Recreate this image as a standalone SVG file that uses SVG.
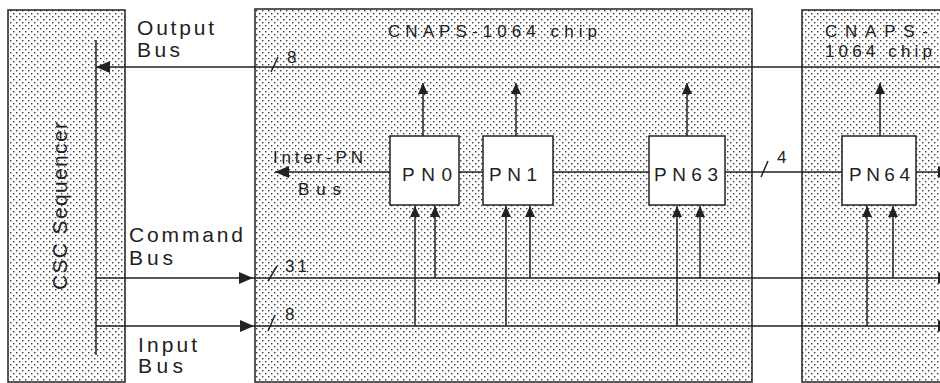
<svg xmlns="http://www.w3.org/2000/svg" width="940" height="383" viewBox="0 0 940 383">
<style>
.blk{fill:url(#dots);stroke:#222;stroke-width:1.5}
.pn{fill:#fff;stroke:#222;stroke-width:1.5}
.ln{fill:none;stroke:#222;stroke-width:1.5}
.t{font-family:"Liberation Sans",Arial,sans-serif;font-size:21px;fill:#222}
.p{font-family:"Liberation Sans",Arial,sans-serif;font-size:19px;fill:#222}
.s{font-family:"Liberation Sans",Arial,sans-serif;font-size:17px;fill:#222}
</style>
<defs>
<pattern id="dots" width="6" height="6" patternUnits="userSpaceOnUse">
<rect width="6" height="6" fill="#fff"/>
<rect x="1" y="1" width="1.4" height="1.4" fill="#3a3a3a"/>
<rect x="4" y="4" width="1.4" height="1.4" fill="#3a3a3a"/>
</pattern>
<marker id="ah" viewBox="0 0 14 12" refX="14" refY="6" markerWidth="14" markerHeight="12" markerUnits="userSpaceOnUse" orient="auto">
<path d="M0 0 L14 6 L0 12 Z" fill="#222"/>
</marker>
<marker id="ahs" viewBox="0 0 11 10" refX="11" refY="5" markerWidth="11" markerHeight="10" markerUnits="userSpaceOnUse" orient="auto">
<path d="M0 0 L11 5 L0 10 Z" fill="#222"/>
</marker>
</defs>
<rect width="940" height="383" fill="#fff"/>
<g id="sequencer">
<rect class="blk" x="8" y="10" width="117" height="372"/>
<text class="t" transform="translate(67,290) rotate(-90)" textLength="168" lengthAdjust="spacing">CSC  Sequencer</text>
</g>
<g id="chip1">
<rect class="blk" x="255" y="9" width="497" height="373"/>
<text class="s" x="388" y="37" textLength="209" lengthAdjust="spacing">CNAPS-1064  chip</text>
</g>
<g id="chip2">
<rect class="blk" x="802" y="10" width="150" height="372"/>
<text class="s" x="825" y="37" textLength="103" lengthAdjust="spacing">CNAPS-</text>
<text class="s" x="825" y="57" textLength="107" lengthAdjust="spacing">1064  chip</text>
</g>
<g id="labels">
<text class="t" x="137" y="35" textLength="77" lengthAdjust="spacing">Output</text>
<text class="t" x="137" y="57" textLength="43" lengthAdjust="spacing">Bus</text>
<text class="t" x="129" y="242" textLength="114" lengthAdjust="spacing">Command</text>
<text class="t" x="129" y="265" textLength="44" lengthAdjust="spacing">Bus</text>
<text class="t" x="138" y="352" textLength="59" lengthAdjust="spacing">Input</text>
<text class="t" x="138" y="373" textLength="45" lengthAdjust="spacing">Bus</text>
<text class="s" x="273" y="163" textLength="90" lengthAdjust="spacing">Inter-PN</text>
<text class="s" x="298" y="195" textLength="43" lengthAdjust="spacing">Bus</text>
<text class="s" x="287" y="63">8</text>
<text class="s" x="285" y="272" textLength="22" lengthAdjust="spacing">31</text>
<text class="s" x="285" y="320">8</text>
<text class="s" x="777" y="163">4</text>
</g>
<g id="connectors">
<path class="ln" d="M96 40 V355"/>
<path class="ln" d="M940 67 H96" marker-end="url(#ah)"/>
<path class="ln" d="M96 278 H253" marker-end="url(#ah)"/>
<path class="ln" d="M253 278 H952" marker-end="url(#ah)"/>
<path class="ln" d="M96 326 H254" marker-end="url(#ah)"/>
<path class="ln" d="M254 326 H952" marker-end="url(#ah)"/>
<path class="ln" d="M390 172 H275" marker-end="url(#ah)"/>
<path class="ln" d="M459 172 H483 M553 172 H649 M725 172 H842"/>
<path class="ln" d="M916 172 H952" marker-end="url(#ah)"/>
<path class="ln" d="M271 72 L278 57 M268 281 L277 266 M268 331 L275 315 M761 177 L768 161"/>
<path class="ln" d="M423 136 V83" marker-end="url(#ahs)"/>
<path class="ln" d="M516 136 V83" marker-end="url(#ahs)"/>
<path class="ln" d="M687 136 V83" marker-end="url(#ahs)"/>
<path class="ln" d="M880 136 V83" marker-end="url(#ahs)"/>
<path class="ln" d="M415 326 V206" marker-end="url(#ahs)"/>
<path class="ln" d="M435 278 V206" marker-end="url(#ahs)"/>
<path class="ln" d="M506 326 V206" marker-end="url(#ahs)"/>
<path class="ln" d="M530 278 V206" marker-end="url(#ahs)"/>
<path class="ln" d="M677 326 V206" marker-end="url(#ahs)"/>
<path class="ln" d="M700 278 V206" marker-end="url(#ahs)"/>
<path class="ln" d="M867 326 V206" marker-end="url(#ahs)"/>
<path class="ln" d="M893 278 V206" marker-end="url(#ahs)"/>
</g>
<g id="pn0"><rect class="pn" x="390" y="136" width="69" height="69"/><text class="p" x="402" y="181" textLength="50" lengthAdjust="spacing">PN0</text></g>
<g id="pn1"><rect class="pn" x="483" y="136" width="70" height="69"/><text class="p" x="489" y="181" textLength="48" lengthAdjust="spacing">PN1</text></g>
<g id="pn63"><rect class="pn" x="649" y="136" width="76" height="69"/><text class="p" x="654" y="181" textLength="64" lengthAdjust="spacing">PN63</text></g>
<g id="pn64"><rect class="pn" x="842" y="136" width="74" height="69"/><text class="p" x="849" y="181" textLength="61" lengthAdjust="spacing">PN64</text></g>
</svg>
